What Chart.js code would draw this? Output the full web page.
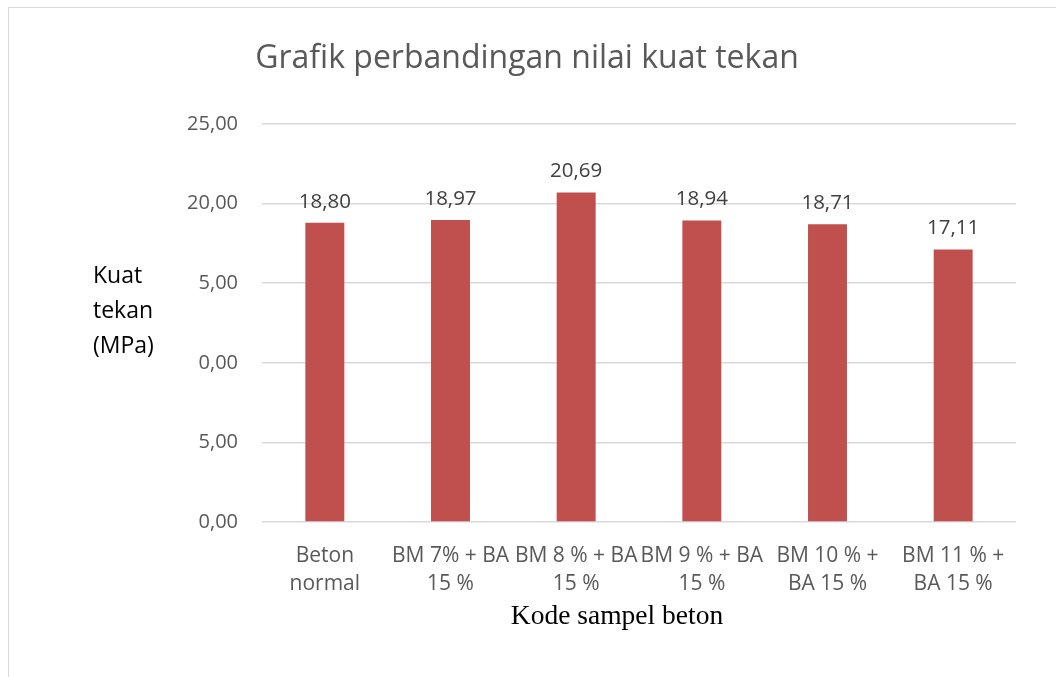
<!DOCTYPE html>
<html>
<head>
<meta charset="utf-8">
<script src="https://cdn.jsdelivr.net/npm/chart.js@4.4.1/dist/chart.umd.min.js"></script>
<style>
  html, body { margin:0; padding:0; background:#fff; overflow:hidden; }
  #frame { position:absolute; left:8px; top:7px; width:1200px; height:800px; border:1px solid #d9d9d9; }
  #kuatChart { position:absolute; left:0; top:0; }
</style>
</head>
<body>
<div id="frame"></div>
<canvas id="kuatChart" width="1056" height="677"></canvas>
<script>
// data
var sampleLabels = [
    ["Beton", "normal"],
    ["BM 7% + BA", "15 %"],
    ["BM 8 % + BA", "15 %"],
    ["BM 9 % + BA", "15 %"],
    ["BM 10 % +", "BA 15 %"],
    ["BM 11 % +", "BA 15 %"]
];
var kuatTekan = [18.80, 18.97, 20.69, 18.94, 18.71, 17.11];
// tick labels as they appear on the picture (bottom to top)
var yTickLabels = ["0,00", "5,00", "0,00", "5,00", "20,00", "25,00"];
var yTitleLines = ["Kuat", "tekan", "(MPa)"];
var xTitle = "Kode sampel beton";
var chartTitle = "Grafik perbandingan nilai kuat tekan";

var sansFont = "'Open Sans', sans-serif";

var extraText = {
    id: "extraText",
    afterDatasetsDraw: function(chart) {
        var ctx = chart.ctx;
        var meta = chart.getDatasetMeta(0);
        ctx.save();
        ctx.textBaseline = "middle";
        // title
        ctx.font = "32px " + sansFont;
        ctx.fillStyle = "#595959";
        ctx.textAlign = "center";
        ctx.fillText(chartTitle, 527, 59);
        // value labels above bars
        ctx.font = "20.5px " + sansFont;
        ctx.fillStyle = "#404040";
        meta.data.forEach(function(bar, i) {
            ctx.fillText(kuatTekan[i].toFixed(2).replace(".", ","), bar.x, bar.y - 21);
        });
        // y axis title
        ctx.font = "23px " + sansFont;
        ctx.fillStyle = "#000";
        ctx.textAlign = "left";
        for (var i = 0; i < yTitleLines.length; i++) {
            ctx.fillText(yTitleLines[i], 93, 276 + i * 35);
        }
        // x axis title
        ctx.font = "27.5px 'Liberation Serif', serif";
        ctx.textAlign = "center";
        ctx.fillText(xTitle, 617, 617);
        ctx.restore();
    }
};

var kuatChart = new Chart(document.getElementById("kuatChart"), {
    type: "bar",
    data: {
        labels: sampleLabels,
        datasets: [{
            label: "Kuat tekan",
            data: kuatTekan,
            backgroundColor: "#C0504D",
            categoryPercentage: 1,
            barPercentage: 0.31
        }]
    },
    options: {
        responsive: false,
        animation: false,
        layout: { padding: { left: 0, right: 40, top: 124, bottom: 0 } },
        plugins: {
            legend: { display: false },
            tooltip: { enabled: false },
            title: { display: false }
        },
        scales: {
            x: {
                grid: { display: false },
                border: { display: false },
                ticks: {
                    color: "#595959",
                    font: { family: sansFont, size: 21, lineHeight: 1.33 },
                    padding: 12,
                    maxRotation: 0,
                    autoSkip: false
                },
                afterFit: function(scale) { scale.height = 155; }
            },
            y: {
                min: 0,
                max: 25,
                grid: { color: "#d9d9d9", lineWidth: 1.5, drawTicks: false },
                border: { display: false },
                ticks: {
                    stepSize: 5,
                    color: "#595959",
                    font: { family: sansFont, size: 20 },
                    padding: 24,
                    callback: function(value, index) { return yTickLabels[index]; }
                },
                afterFit: function(scale) { scale.width = 262; }
            }
        }
    },
    plugins: [extraText]
});
</script>
</body>
</html>
